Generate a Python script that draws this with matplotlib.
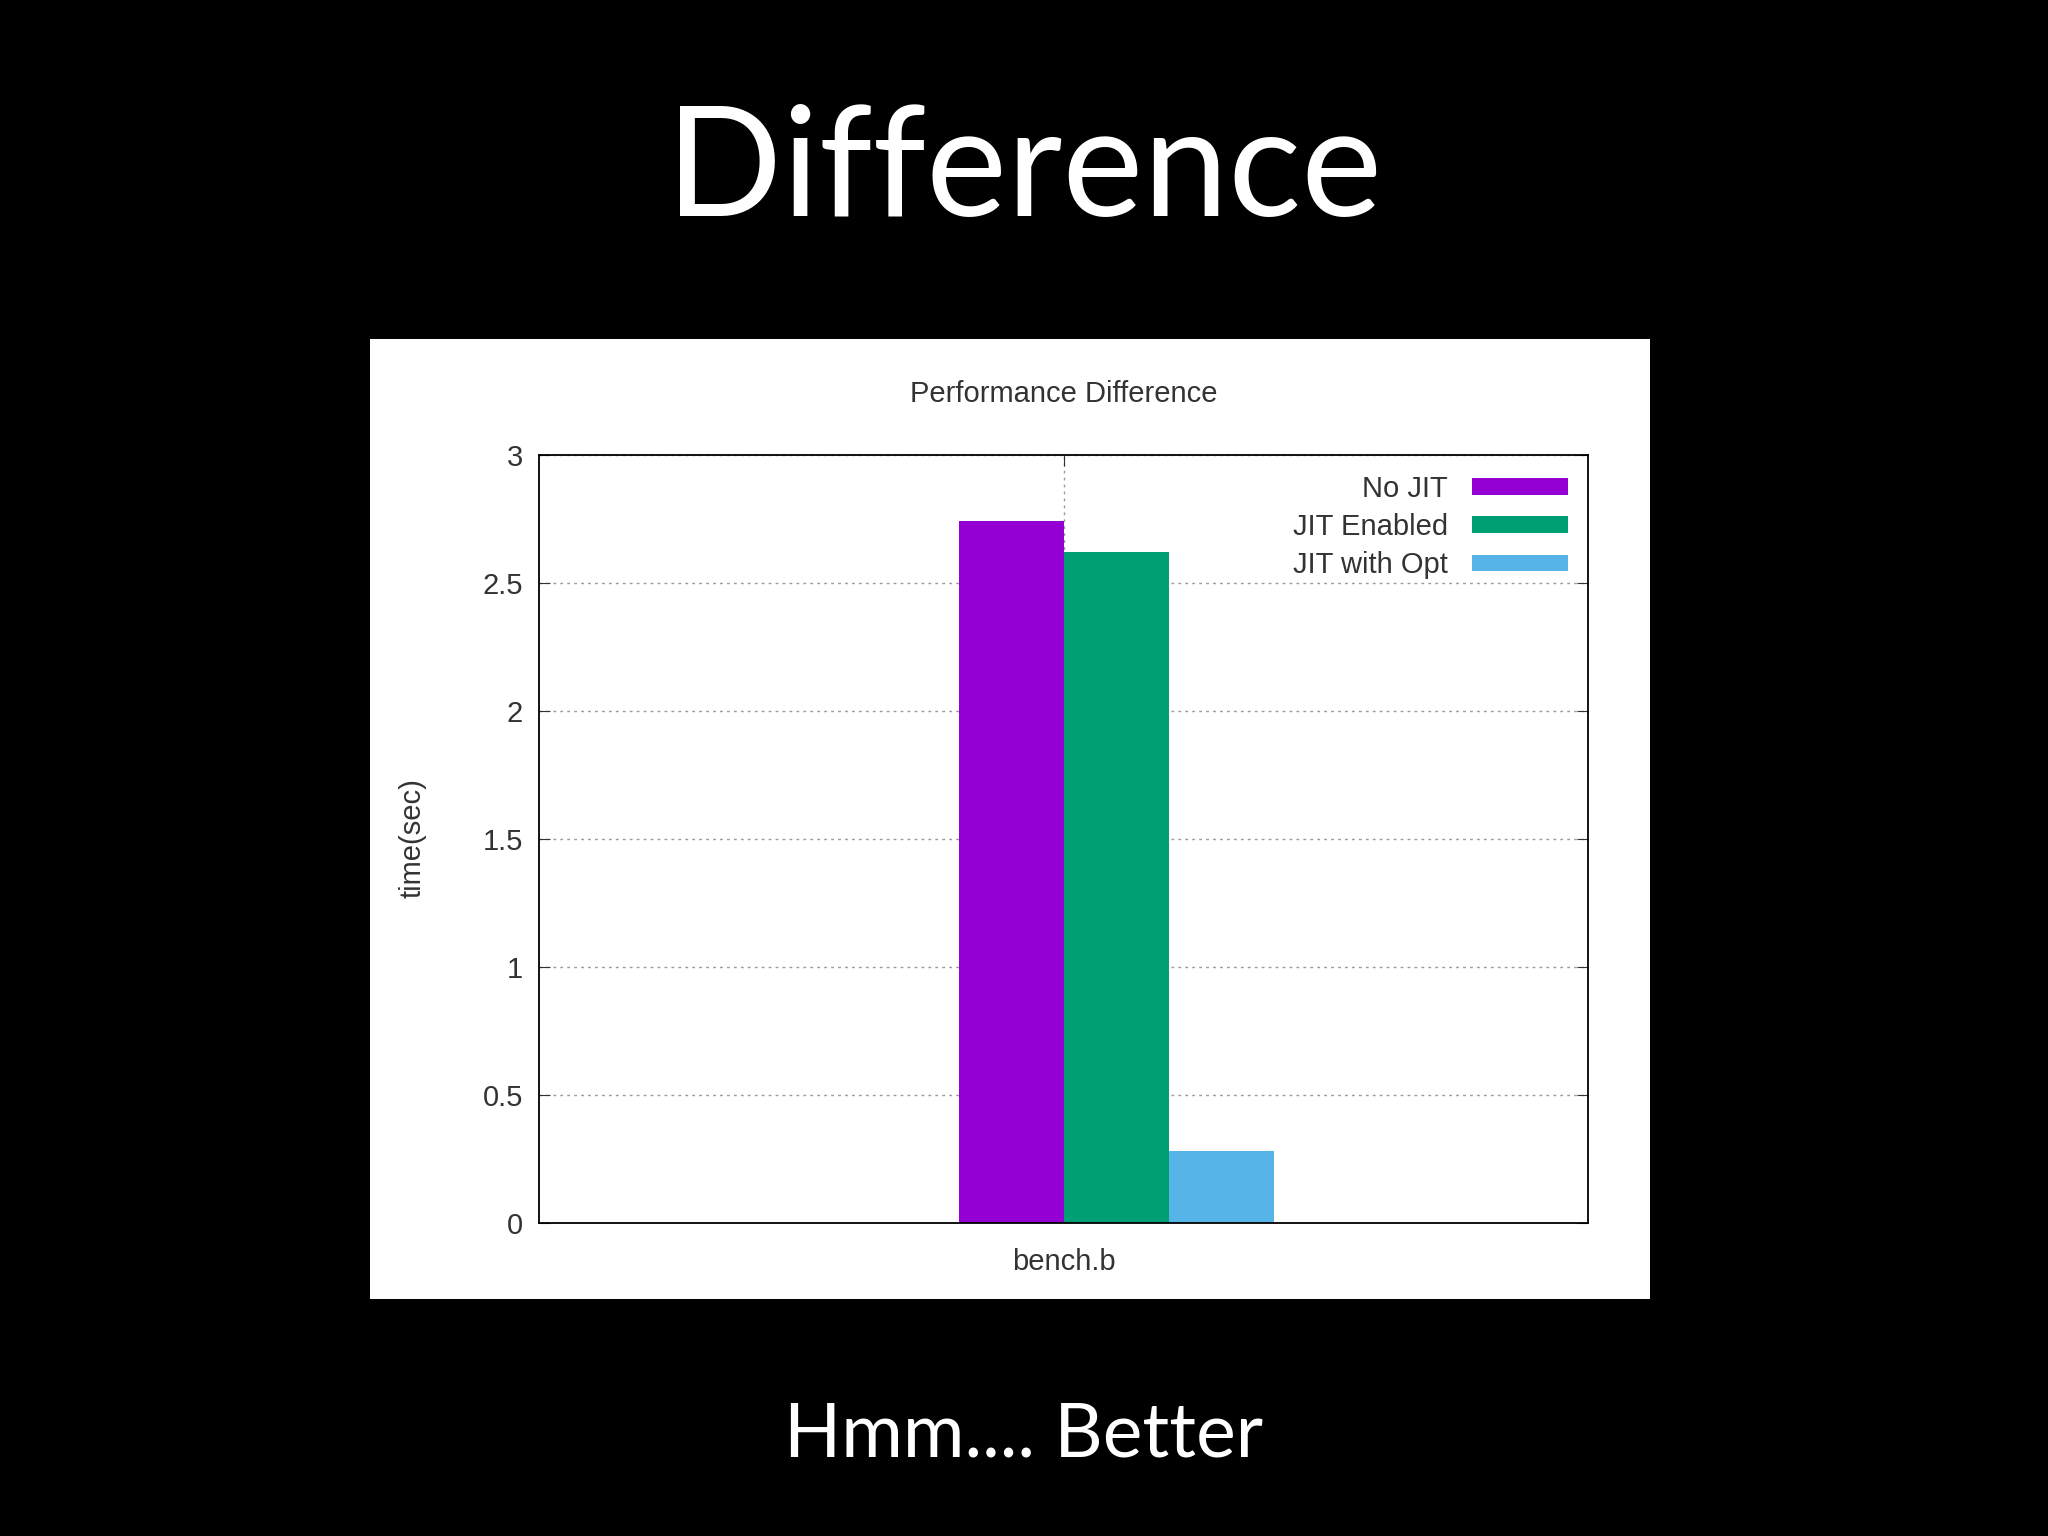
import matplotlib

matplotlib.use("Agg")
import matplotlib.pyplot as plt

categories = ["bench.b"]
series = ["No JIT", "JIT Enabled", "JIT with Opt"]
values = [2.74, 2.62, 0.28]
colors = ["#9400d3", "#009e73", "#56b4e9"]
offsets = [-0.1, 0.1, 0.3]
yticks = [0, 0.5, 1, 1.5, 2, 2.5, 3]

plt.rcParams["font.family"] = ["Liberation Sans", "DejaVu Sans"]

fig = plt.figure(figsize=(20.48, 15.36), dpi=100, facecolor="black")

# white chart panel behind the plot
bg = fig.add_axes([0.1805, 0.154, 0.625, 0.625], zorder=-1)
bg.set_facecolor("white")
bg.set_xticks([])
bg.set_yticks([])
for s in bg.spines.values():
    s.set_visible(False)

fig.text(0.5, 0.888, "Difference", color="white", fontsize=110, ha="center", va="center",
         family=["Lato", "DejaVu Sans"])
fig.text(0.5, 0.066, "Hmm.... Better", color="white", fontsize=54, ha="center", va="center",
         family=["Lato", "DejaVu Sans"])

ax = fig.add_axes([0.2634, 0.2041, 0.5121, 0.5])
ax.set_facecolor("white")
for name, val, col, off in zip(series, values, colors, offsets):
    ax.bar(off, val, width=0.2, color=col, label=name, zorder=2)

ax.set_xlim(-1, 1)
ax.set_ylim(0, 3)
ax.set_xticks([0])
ax.set_xticklabels(categories)
ax.set_yticks(yticks)
ax.set_yticklabels([f"{t:g}" for t in yticks])
ax.tick_params(direction="in", length=8, labelsize=21, colors="#333333", right=True, top=True,
               pad=12)
ax.tick_params(axis="x", pad=18)
ax.grid(True, color="#999999", linestyle=(0, (2, 3)), linewidth=1, zorder=1)
ax.set_axisbelow(True)
for s in ax.spines.values():
    s.set_linewidth(1.3)
ax.set_ylabel("time(sec)", fontsize=21, color="#333333", labelpad=40)
ax.set_title("Performance Difference", fontsize=21, color="#333333", pad=38)

leg = ax.legend(loc="upper right", frameon=False, markerfirst=False, fontsize=21,
                handlelength=3.3, handleheight=0.5, labelspacing=0.35,
                borderaxespad=0.3)
for t in leg.get_texts():
    t.set_color("#333333")

fig.savefig("out.png", dpi=100, facecolor="black")
